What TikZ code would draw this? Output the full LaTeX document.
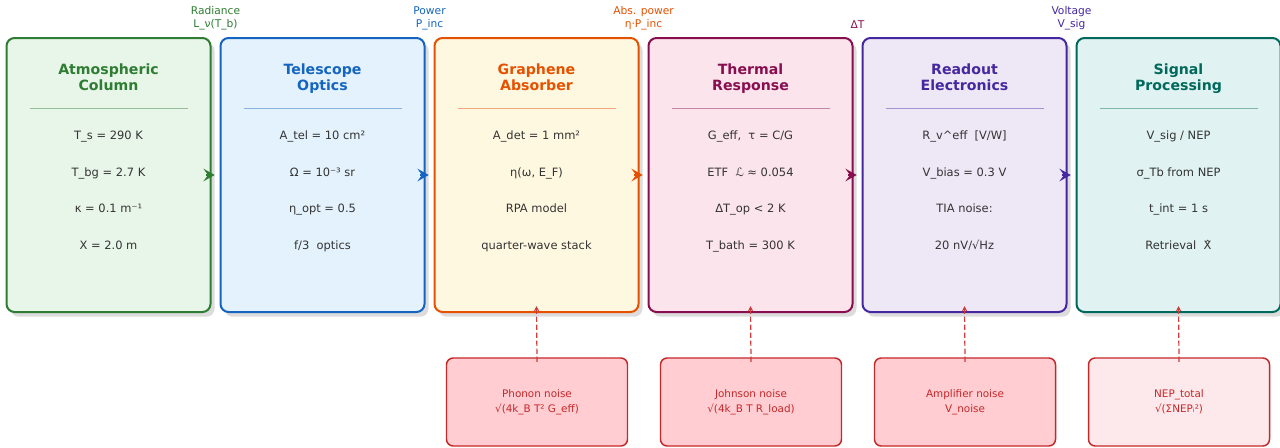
\documentclass[tikz,border=0pt]{standalone}
\usepackage{fontspec}
\setmainfont{DejaVu Sans}
\usetikzlibrary{arrows.meta,calc,shadows}
\definecolor{cA}{HTML}{2E7D32}\definecolor{fA}{HTML}{E8F5E9}
\definecolor{cB}{HTML}{1565C0}\definecolor{fB}{HTML}{E3F2FD}
\definecolor{cC}{HTML}{E65100}\definecolor{fC}{HTML}{FFF8E1}
\definecolor{cD}{HTML}{880E4F}\definecolor{fD}{HTML}{FCE4EC}
\definecolor{cE}{HTML}{4527A0}\definecolor{fE}{HTML}{EDE7F6}
\definecolor{cF}{HTML}{00695C}\definecolor{fF}{HTML}{E0F2F1}
\definecolor{nz}{HTML}{C62828}\definecolor{nzf}{HTML}{FFCDD2}
\definecolor{nzl}{HTML}{FDE8EB}\definecolor{nzt}{HTML}{C62828}
\definecolor{bodyc}{HTML}{333333}
\tikzset{
  mainbox/.style={rounded corners=6pt, line width=1.5pt, minimum width=153pt,
    minimum height=205.5pt, inner sep=0pt,
    drop shadow={shadow xshift=3pt, shadow yshift=-3.5pt, fill=black!30, opacity=0.45}},
  ttl/.style={font=\fontsize{10.6pt}{12.5pt}\selectfont\bfseries, align=center, inner sep=0pt, anchor=base},
  sepline/.style={line width=0.8pt},
  bodytxt/.style={font=\fontsize{8.6pt}{10pt}\selectfont, text=bodyc, inner sep=0pt, anchor=base},
  toplbl/.style={font=\fontsize{8pt}{9.75pt}\selectfont, align=center, inner sep=0pt},
  flowarr/.style={line width=1.5pt, -{Stealth[length=8.5pt,width=9.5pt,inset=3.5pt]}},
  noisebox/.style={rounded corners=5pt, line width=1.1pt, draw=nz, minimum width=135.75pt,
    minimum height=66pt, inner sep=0pt, align=center, text=nzt,
    font=\fontsize{7.8pt}{11pt}\selectfont},
  noisearr/.style={draw=nz!90, line width=0.9pt, dash pattern=on 4pt off 2pt,
    -{Stealth[length=4pt,width=4pt]}}
}
\begin{document}
\begin{tikzpicture}[x=0.75pt,y=-0.75pt]
\useasboundingbox (0,0) rectangle (1280,447);
\fill[white] (0,0) rectangle (1280,447);

% main boxes
\node[mainbox, draw=cA, fill=fA] (b1) at (108.5,175) {};
\node[mainbox, draw=cB, fill=fB] (b2) at (322.5,175) {};
\node[mainbox, draw=cC, fill=fC] (b3) at (536.5,175) {};
\node[mainbox, draw=cD, fill=fD] (b4) at (750.5,175) {};
\node[mainbox, draw=cE, fill=fE] (b5) at (964.5,175) {};
\node[mainbox, draw=cF, fill=fF] (b6) at (1178.5,175) {};

% titles
\node[ttl, text=cA] (t1) at ($(b1.north)+(0,53.7)$) {Atmospheric\\Column};
\node[ttl, text=cB] (t2) at ($(b2.north)+(0,53.7)$) {Telescope\\Optics};
\node[ttl, text=cC] (t3) at ($(b3.north)+(0,53.7)$) {Graphene\\Absorber};
\node[ttl, text=cD] (t4) at ($(b4.north)+(0,53.7)$) {Thermal\\Response};
\node[ttl, text=cE] (t5) at ($(b5.north)+(0,53.7)$) {Readout\\Electronics};
\node[ttl, text=cF] (t6) at ($(b6.north)+(0,53.7)$) {Signal\\Processing};

% separators
\draw[sepline, cA!50] ($(b1.north)+(-79,71.3)$) -- ($(b1.north)+(79,71.3)$);
\draw[sepline, cB!50] ($(b2.north)+(-79,71.3)$) -- ($(b2.north)+(79,71.3)$);
\draw[sepline, cC!50] ($(b3.north)+(-79,71.3)$) -- ($(b3.north)+(79,71.3)$);
\draw[sepline, cD!50] ($(b4.north)+(-79,71.3)$) -- ($(b4.north)+(79,71.3)$);
\draw[sepline, cE!50] ($(b5.north)+(-79,71.3)$) -- ($(b5.north)+(79,71.3)$);
\draw[sepline, cF!50] ($(b6.north)+(-79,71.3)$) -- ($(b6.north)+(79,71.3)$);

% body lines
\node[bodytxt] (a1) at ($(b1.north)+(0,102.5)$) {T\_s = 290 K};
\node[bodytxt] (a2) at ($(b1.north)+(0,139)$) {T\_bg = 2.7 K};
\node[bodytxt] (a3) at ($(b1.north)+(0,175.5)$) {κ = 0.1 m⁻¹};
\node[bodytxt] (a4) at ($(b1.north)+(0,212)$) {X = 2.0 m};

\node[bodytxt] (o1) at ($(b2.north)+(0,102.5)$) {A\_tel = 10 cm²};
\node[bodytxt] (o2) at ($(b2.north)+(0,139)$) {Ω = 10⁻³ sr};
\node[bodytxt] (o3) at ($(b2.north)+(0,175.5)$) {η\_opt = 0.5};
\node[bodytxt] (o4) at ($(b2.north)+(0,212)$) {f/3\ \ optics};

\node[bodytxt] (g1) at ($(b3.north)+(0,102.5)$) {A\_det = 1 mm²};
\node[bodytxt] (g2) at ($(b3.north)+(0,139)$) {η(ω, E\_F)};
\node[bodytxt] (g3) at ($(b3.north)+(0,175.5)$) {RPA model};
\node[bodytxt] (g4) at ($(b3.north)+(0,212)$) {quarter-wave stack};

\node[bodytxt] (h1) at ($(b4.north)+(0,102.5)$) {G\_eff,\ \ τ = C/G};
\node[bodytxt] (h2) at ($(b4.north)+(0,139)$) {ETF\ \ ℒ ≈ 0.054};
\node[bodytxt] (h3) at ($(b4.north)+(0,175.5)$) {ΔT\_op < 2 K};
\node[bodytxt] (h4) at ($(b4.north)+(0,212)$) {T\_bath = 300 K};

\node[bodytxt] (r1) at ($(b5.north)+(0,102.5)$) {R\_v\textasciicircum eff\ \ [V/W]};
\node[bodytxt] (r2) at ($(b5.north)+(0,139)$) {V\_bias = 0.3 V};
\node[bodytxt] (r3) at ($(b5.north)+(0,175.5)$) {TIA noise:};
\node[bodytxt] (r4) at ($(b5.north)+(0,212)$) {20 nV/√Hz};

\node[bodytxt] (s1) at ($(b6.north)+(0,102.5)$) {V\_sig / NEP};
\node[bodytxt] (s2) at ($(b6.north)+(0,139)$) {σ\_Tb from NEP};
\node[bodytxt] (s3) at ($(b6.north)+(0,175.5)$) {t\_int = 1 s};
\node[bodytxt] (s4) at ($(b6.north)+(0,212)$) {Retrieval\ \ {\ooalign{X\cr\hidewidth ˆ\hidewidth\cr}}};

% flow arrows
\draw[flowarr, cA] ([xshift=-4.5pt]b1.east) -- ([xshift=-3.6pt]b2.west);
\draw[flowarr, cB] ([xshift=-4.5pt]b2.east) -- ([xshift=-3.6pt]b3.west);
\draw[flowarr, cC] ([xshift=-4.5pt]b3.east) -- ([xshift=-3.6pt]b4.west);
\draw[flowarr, cD] ([xshift=-4.5pt]b4.east) -- ([xshift=-3.6pt]b5.west);
\draw[flowarr, cE] ([xshift=-4.5pt]b5.east) -- ([xshift=-3.6pt]b6.west);

% labels above gaps
\node[toplbl, text=cA] (l1) at ($($(b1.north east)!0.5!(b2.north west)$)+(0,-19)$) {Radiance\\L\_ν(T\_b)};
\node[toplbl, text=cB] (l2) at ($($(b2.north east)!0.5!(b3.north west)$)+(0,-19)$) {Power\\P\_inc};
\node[toplbl, text=cC] (l3) at ($($(b3.north east)!0.5!(b4.north west)$)+(0,-19)$) {Abs. power\\η·P\_inc};
\node[toplbl, text=cD] (l4) at ($($(b4.north east)!0.5!(b5.north west)$)+(0,-12.3)$) {ΔT};
\node[toplbl, text=cE] (l5) at ($($(b5.north east)!0.5!(b6.north west)$)+(0,-19)$) {Voltage\\V\_sig};

% noise boxes
\node[noisebox, fill=nzf] (n1) at (537,402) {Phonon noise\\√(4k\_B T² G\_eff)};
\node[noisebox, fill=nzf] (n2) at (751,402) {Johnson noise\\√(4k\_B T R\_load)};
\node[noisebox, fill=nzf] (n3) at (965,402) {Amplifier noise\\V\_noise};
\node[noisebox, fill=nzl] (n4) at (1179,402) {NEP\_total\\√(ΣNEPᵢ²)};

% noise arrows
\draw[noisearr] ([yshift=-3.5pt]n1.north) -- ([yshift=5.2pt]b3.south);
\draw[noisearr] ([yshift=-3.5pt]n2.north) -- ([yshift=5.2pt]b4.south);
\draw[noisearr] ([yshift=-3.5pt]n3.north) -- ([yshift=5.2pt]b5.south);
\draw[noisearr] ([yshift=-3.5pt]n4.north) -- ([yshift=5.2pt]b6.south);
\end{tikzpicture}
\end{document}
